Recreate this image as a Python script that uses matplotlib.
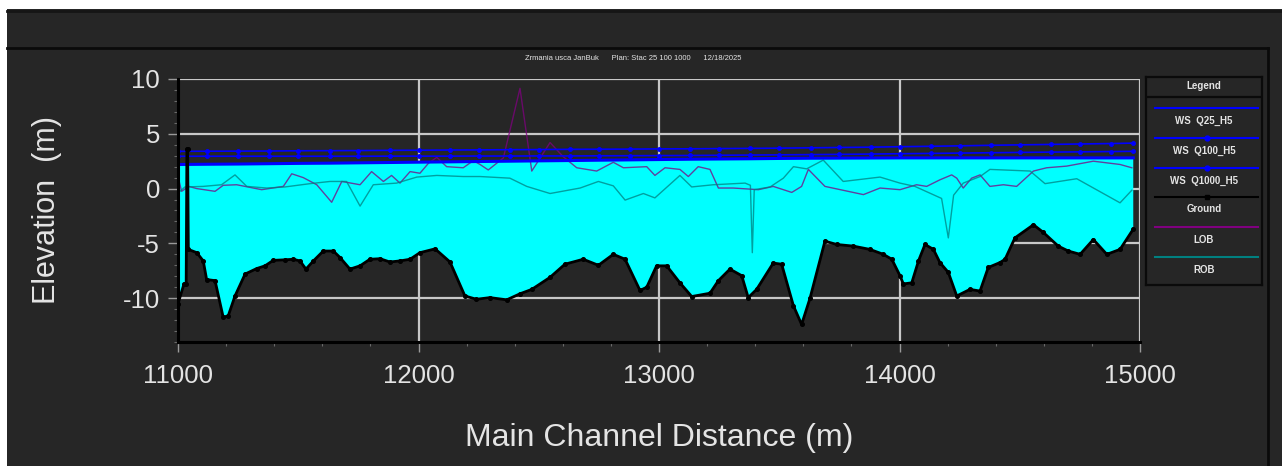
import numpy as np
import matplotlib
matplotlib.use("Agg")
from matplotlib import pyplot as plt
from matplotlib.patches import Rectangle
from matplotlib.lines import Line2D
from matplotlib.ticker import MultipleLocator

plt.rcParams['font.family'] = ['Liberation Sans', 'DejaVu Sans']
plt.rcParams['axes.unicode_minus'] = False

# ground profile (station, elevation)
ground_x = [11000, 11025, 11034, 11037, 11040, 11043, 11078, 11105, 11119, 11154,
            11188, 11209, 11237, 11279, 11327, 11362, 11396, 11445, 11479, 11507,
            11532, 11563, 11604, 11646, 11674, 11715, 11757, 11798, 11840, 11881,
            11923, 11965, 12006, 12069, 12131, 12193, 12241, 12297, 12367, 12422,
            12471, 12547, 12609, 12685, 12748, 12810, 12859, 12921, 12949, 12990,
            13032, 13087, 13136, 13212, 13247, 13295, 13344, 13371, 13406, 13475,
            13510, 13559, 13593, 13628, 13690, 13739, 13808, 13877, 13933, 13968,
            14002, 14016, 14051, 14079, 14106, 14141, 14168, 14203, 14238, 14293,
            14335, 14369, 14418, 14439, 14480, 14557, 14598, 14660, 14702, 14751,
            14806, 14862, 14917, 14972]
ground_y = [-10.5, -8.7, -8.7, 3.6, 3.6, -5.55, -5.85, -6.6, -8.3, -8.4,
            -11.75, -11.6, -9.8, -7.8, -7.3, -7.05, -6.55, -6.5, -6.45, -6.6,
            -7.35, -6.6, -5.7, -5.7, -6.3, -7.35, -7.05, -6.45, -6.4, -6.7,
            -6.6, -6.45, -5.85, -5.5, -6.7, -9.8, -10.1, -9.95, -10.15, -9.6,
            -9.2, -8.1, -6.9, -6.45, -7.0, -6.0, -6.45, -9.3, -9.0, -7.05,
            -7.05, -8.6, -9.85, -9.55, -8.4, -7.35, -7.95, -9.95, -9.2, -6.8,
            -6.9, -10.7, -12.4, -10.0, -4.8, -5.1, -5.25, -5.55, -6.0, -6.45,
            -7.95, -8.7, -8.6, -6.6, -5.1, -5.55, -6.75, -7.65, -9.8, -9.2,
            -9.35, -7.2, -6.75, -6.45, -4.5, -3.3, -4.0, -5.25, -5.7, -6.0,
            -4.65, -6.0, -5.55, -3.7]

# water surfaces
ws_x = [11000, 11120, 11250, 11380, 11500, 11630, 11750, 11880, 12000, 12130,
        12250, 12380, 12500, 12630, 12750, 12880, 13000, 13130, 13250, 13380,
        13500, 13630, 13750, 13880, 14000, 14130, 14250, 14380, 14500, 14630,
        14750, 14880, 14972]
ws_q25 = [2.20, 2.22, 2.24, 2.27, 2.30, 2.32, 2.35, 2.38, 2.41, 2.44,
          2.47, 2.50, 2.53, 2.56, 2.59, 2.62, 2.65, 2.68, 2.70, 2.72,
          2.75, 2.77, 2.78, 2.79, 2.80, 2.80, 2.80, 2.80, 2.80, 2.80,
          2.80, 2.80, 2.80]
ws_q100 = [2.95, 2.95, 2.95, 2.95, 2.95, 2.95, 2.95, 2.96, 2.96, 2.96,
           2.97, 2.97, 2.98, 2.98, 2.99, 3.00, 3.01, 3.02, 3.04, 3.06,
           3.08, 3.10, 3.12, 3.15, 3.18, 3.21, 3.24, 3.27, 3.30, 3.33,
           3.35, 3.38, 3.40]
ws_q1000 = [3.40, 3.41, 3.42, 3.43, 3.45, 3.46, 3.47, 3.49, 3.50, 3.52,
            3.53, 3.55, 3.56, 3.58, 3.59, 3.60, 3.62, 3.63, 3.65, 3.67,
            3.69, 3.72, 3.75, 3.78, 3.82, 3.86, 3.90, 3.95, 3.99, 4.03,
            4.07, 4.11, 4.15]

# left overbank
lob_x = [11000, 11015, 11045, 11078, 11154, 11188, 11244, 11348, 11438, 11473,
         11521, 11577, 11639, 11681, 11757, 11805, 11854, 11888, 11923, 11965,
         12006, 12041, 12076, 12117, 12186, 12228, 12256, 12290, 12353, 12422,
         12471, 12547, 12602, 12658, 12741, 12810, 12852, 12949, 12983, 13025,
         13087, 13122, 13163, 13212, 13247, 13309, 13413, 13475, 13552, 13593,
         13621, 13690, 13850, 13919, 14002, 14071, 14113, 14168, 14217, 14238,
         14265, 14300, 14335, 14376, 14432, 14487, 14557, 14612, 14695, 14806,
         14917, 14966]
lob_y = [1.1, -0.25, 0.2, 0.0, -0.25, 0.3, 0.35, -0.1, 0.2, 1.35,
         1.0, 0.35, -1.25, 0.65, 0.35, 1.55, 0.65, 1.2, 0.5, 1.55,
         1.4, 2.3, 2.85, 2.0, 1.9, 2.55, 2.2, 1.7, 2.8, 9.15,
         1.6, 4.2, 2.9, 1.9, 1.6, 2.4, 1.9, 2.0, 1.2, 1.9,
         1.75, 1.1, 2.0, 1.75, 0.05, 0.05, -0.1, 0.2, -0.35, 0.2,
         1.75, 0.2, -0.55, 0.05, -0.1, 0.35, 0.2, 0.8, 1.25, 0.95,
         0.05, 0.95, 1.25, 0.2, 0.35, 0.2, 1.6, 1.9, 2.05, 2.5,
         2.2, 1.9]

# right overbank
rob_x = [11000, 11029, 11105, 11181, 11237, 11286, 11369, 11445, 11549, 11632,
         11701, 11757, 11812, 11909, 11993, 12076, 12186, 12256, 12380, 12450,
         12547, 12672, 12748, 12810, 12859, 12935, 12983, 13087, 13136, 13226,
         13358, 13380, 13388, 13396, 13462, 13517, 13559, 13614, 13683, 13766,
         13919, 14002, 14064, 14175, 14203, 14225, 14265, 14335, 14376, 14543,
         14605, 14737, 14917, 14966]
rob_y = [-0.4, 0.15, 0.2, 0.35, 1.25, 0.2, 0.05, 0.15, 0.45, 0.65,
         0.65, -1.6, 0.35, 0.5, 1.05, 1.2, 1.1, 1.1, 0.95, 0.2,
         -0.45, 0.05, 0.65, 0.25, -1.05, -0.45, -0.85, 1.2, 0.15, 0.35,
         0.5, 0.3, -5.85, -0.1, 0.15, 0.95, 2.0, 1.8, 2.6, 0.65,
         1.05, 0.5, 0.2, -0.9, -4.5, -0.6, 0.5, 1.1, 1.75, 1.6,
         0.45, 0.9, -1.3, -0.15]

legend_labels = ['WS  Q25_H5', 'WS  Q100_H5', 'WS  Q1000_H5', 'Ground', 'LOB', 'ROB']

W, H = 1282, 466
bg = '#262626'
txt = '#e4e4e4'

fig = plt.figure(figsize=(W / 100, H / 100), dpi=100)
fig.patch.set_facecolor('white')
# dark panel and frame lines
fig.add_artist(Rectangle((7 / W, 0), 1 - 7 / W, 1 - 9 / H, transform=fig.transFigure,
                         facecolor=bg, edgecolor='none', zorder=0))
fig.add_artist(Line2D([7 / W, 1], [1 - 11 / H, 1 - 11 / H], transform=fig.transFigure,
                      color='#151515', lw=2))
fig.add_artist(Line2D([7 / W, 1268 / W], [1 - 48 / H, 1 - 48 / H], transform=fig.transFigure,
                      color='#0a0a0a', lw=2))
fig.add_artist(Line2D([1268 / W, 1268 / W], [0, 1 - 48 / H], transform=fig.transFigure,
                      color='#0a0a0a', lw=2))

ax = fig.add_axes([178 / W, 1 - 342 / H, 962 / W, 263 / H])
ax.set_facecolor(bg)

# water fill between lowest profile and ground
poly_x = np.concatenate([ws_x, ground_x[::-1]])
poly_y = np.concatenate([ws_q25, ground_y[::-1]])
ax.fill(poly_x, poly_y, color='#00ffff', lw=0, zorder=2)

ax.plot(lob_x, lob_y, color='#800080', lw=1.0, alpha=0.75, zorder=3)
ax.plot(rob_x, rob_y, color='#008080', lw=1.0, alpha=0.75, zorder=3)
ax.plot(ws_x, ws_q25, color='#0000ff', lw=2.2, zorder=4)
ax.plot(ws_x, ws_q100, color='#0000ff', lw=1.2, marker='o', ms=2.5, zorder=4)
ax.plot(ws_x, ws_q1000, color='#0000ff', lw=1.2, marker='o', ms=2.5, zorder=4)
ax.plot(ground_x, ground_y, color='black', lw=2, marker='o', ms=2.6, zorder=5)

ax.set_xlim(11000, 15000)
ax.set_ylim(-14, 10)
ax.xaxis.set_major_locator(MultipleLocator(1000))
ax.xaxis.set_minor_locator(MultipleLocator(200))
ax.yaxis.set_major_locator(MultipleLocator(5))
ax.yaxis.set_minor_locator(MultipleLocator(1))
ax.set_axisbelow(True)
ax.grid(True, which='major', color='#c8c8c8', lw=1.6)

for s in ['top', 'right']:
    ax.spines[s].set_visible(False)
for s in ['left', 'bottom']:
    ax.spines[s].set_color('black')
    ax.spines[s].set_linewidth(2.2)
    ax.spines[s].set_zorder(6)

ax.tick_params(axis='both', which='major', direction='out', length=7, width=1,
               color='#9a9a9a', labelcolor=txt, labelsize=18.5)
ax.tick_params(axis='both', which='minor', direction='out', length=3, width=0.8,
               color='#6a6a6a')
ax.tick_params(axis='x', which='major', pad=9)
ax.tick_params(axis='y', which='major', pad=6)

ax.set_xlabel('Main Channel Distance (m)', fontsize=23, color=txt, labelpad=25)
ax.set_ylabel('Elevation  (m)', fontsize=22, color=txt, labelpad=44)

fig.text(633 / W, 1 - 59 / H,
         'Zrmania usca JanBuk      Plan: Stac 25 100 1000      12/18/2025',
         ha='center', va='center', fontsize=5.5, color=txt)

# legend box
lg = fig.add_axes([1146 / W, 1 - 285 / H, 116 / W, 208 / H])
lg.set_facecolor(bg)
lg.set_xlim(0, 116)
lg.set_ylim(208, 0)
lg.set_xticks([])
lg.set_yticks([])
for s in lg.spines.values():
    s.set_color('#0a0a0a')
    s.set_linewidth(1.6)
lg.plot([0, 116], [20, 20], color='#0a0a0a', lw=1.6)
lg.text(58, 9, 'Legend', ha='center', va='center', fontsize=7, color=txt, fontweight='bold')

styles = [('#0000ff', None), ('#0000ff', 'o'), ('#0000ff', 'o'),
          ('black', 's'), ('#800080', None), ('#008080', None)]
line_y = [31, 61, 91, 120, 150, 180]
for lab, (col, mk), ly in zip(legend_labels, styles, line_y):
    lg.plot([9, 112], [ly, ly], color=col, lw=1.5)
    if mk:
        lg.plot([60.5], [ly], linestyle='none', marker=mk, ms=3.5, color=col)
    lg.text(58, ly + 12.5, lab, ha='center', va='center', fontsize=7, color=txt,
            fontweight='bold')

fig.savefig('out.png', dpi=100, facecolor=fig.get_facecolor())
